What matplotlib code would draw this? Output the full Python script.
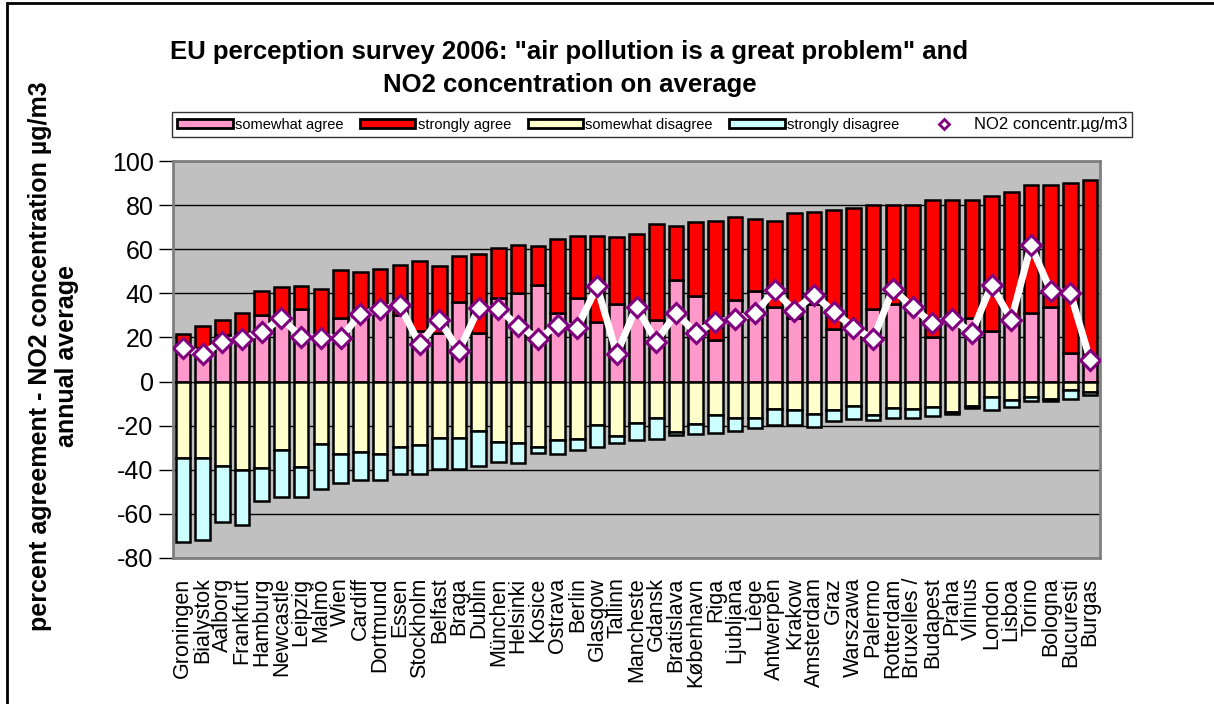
import numpy as np
import matplotlib.pyplot as plt
from matplotlib.patches import Rectangle
from matplotlib.lines import Line2D

plt.rcParams['font.family'] = ['Liberation Sans', 'DejaVu Sans']
plt.rcParams['axes.unicode_minus'] = False

cities = ["Groningen", "Bialystok", "Aalborg", "Frankfurt", "Hamburg", "Newcastle",
          "Leipzig", "Malmö", "Wien", "Cardiff", "Dortmund", "Essen", "Stockholm",
          "Belfast", "Braga", "Dublin", "München", "Helsinki", "Kosice", "Ostrava",
          "Berlin", "Glasgow", "Tallinn", "Mancheste", "Gdansk", "Bratislava",
          "København", "Riga", "Ljubljana", "Liège", "Antwerpen", "Krakow",
          "Amsterdam", "Graz", "Warszawa", "Palermo", "Rotterdam", "Bruxelles /",
          "Budapest", "Praha", "Vilnius", "London", "Lisboa", "Torino", "Bologna",
          "Bucuresti", "Burgas"]

somewhat_agree = [14, 15, 21, 22, 30, 30, 33, 21, 29, 30, 33, 30, 23, 22, 36, 22, 38,
                  40, 44, 31, 38, 27, 35, 35, 28, 46, 39, 19, 37, 41, 34, 29, 35, 24,
                  25, 33, 35, 34, 20, 28, 29, 23, 28, 31, 34, 13, 8]
strongly_agree = [7.5, 10, 7, 9, 11, 13, 10.5, 21, 21.5, 19.5, 18, 23, 31.5, 30.5, 21,
                  36, 22.5, 22, 17.5, 33.5, 28, 39, 30.5, 32, 43.5, 24.5, 33.5, 54,
                  37.5, 32.5, 39, 47.5, 42, 54, 53.5, 47, 45, 46, 62.5, 54.5, 53.5, 61,
                  58, 58, 55, 77, 83.5]
somewhat_disagree = [34.7, 34.7, 38.5, 40.3, 39.3, 31, 38.8, 28.4, 32.8, 32, 32.8, 29.8,
                     28.7, 25.8, 25.8, 22.2, 27.2, 27.9, 29.8, 26.4, 26.1, 19.6, 24.5,
                     18.6, 16.3, 23.1, 19.2, 15.1, 16.3, 16.3, 12.5, 13.1, 14.6, 12.8,
                     11, 15.1, 12.1, 12.5, 11.6, 13.6, 11.3, 7.1, 8.3, 7.1, 8, 3.8, 4.8]
strongly_disagree = [38.1, 37.3, 25.2, 24.6, 15, 21.4, 13.6, 20.5, 13.1, 12.8, 12, 12,
                     13.1, 13.7, 13.7, 16.1, 9.3, 8.9, 2.5, 6.3, 5.1, 10.1, 3.2, 8.1,
                     9.6, 1.0, 4.8, 8.1, 5.9, 4.8, 7.4, 6.8, 6.0, 5.3, 6.2, 2.5, 4.4,
                     4.0, 3.8, 1.0, 0.7, 6.0, 3.3, 1.7, 1.0, 4.3, 1.5]
no2 = [15.1, 12.5, 18.1, 19.4, 22.4, 28.7, 20.1, 19.7, 19.9, 30.5, 32.8, 34.6, 16.9,
       28.0, 13.9, 33.3, 32.8, 25.4, 19.4, 25.5, 24.5, 43.1, 12.6, 34.0, 18.1, 31.0,
       22.2, 26.9, 28.3, 31.0, 41.3, 32.2, 39.3, 31.7, 24.5, 19.2, 41.9, 33.6, 26.5,
       28.3, 22.2, 43.8, 28.0, 61.7, 41.1, 40.1, 9.8]

x = np.arange(len(cities))
sa = np.array(somewhat_agree)
st = np.array(strongly_agree)
sd = np.array(somewhat_disagree)
sdd = np.array(strongly_disagree)

fig = plt.figure(figsize=(12.14, 7.04), dpi=100)
ax = fig.add_axes([0.1425, 0.2074, 0.7636, 0.5639])
ax.set_facecolor('#C0C0C0')

bw = 0.74
edge = dict(edgecolor='black', linewidth=1.8, width=bw, zorder=3)
ax.bar(x, sa, color='#FF99CC', label='somewhat agree', **edge)
ax.bar(x, st, bottom=sa, color='#FF0000', label='strongly agree', **edge)
ax.bar(x, -sd, color='#FFFFCC', label='somewhat disagree', **edge)
ax.bar(x, -sdd, bottom=-sd, color='#CCFFFF', label='strongly disagree', **edge)

ax.plot(x, no2, color='white', linewidth=5, zorder=4)
ax.plot(x, no2, linestyle='none', marker='D', markersize=10.5, markerfacecolor='white',
        markeredgecolor='#800080', markeredgewidth=2.2, zorder=5)

ax.set_xlim(-0.5, len(cities) - 0.5)
ax.set_ylim(-80, 100)
ax.set_yticks(range(-80, 101, 20))
ax.yaxis.grid(True, color='black', linewidth=1)
ax.set_axisbelow(True)
for s in ax.spines.values():
    s.set_color('#808080')
    s.set_linewidth(2)

ax.tick_params(axis='y', labelsize=18, length=10, width=1, color='black', pad=4)
ax.set_xticks(x)
ax.set_xticklabels(cities, rotation=90, ha='center', va='top', fontsize=15.5)
ax.tick_params(axis='x', length=0, pad=14)

fig.text(0.469, 0.903, 'EU perception survey 2006: "air pollution is a great problem" and\n'
         'NO2 concentration on average', ha='center', va='center', fontsize=18.5,
         fontweight='bold', linespacing=1.5)

fig.text(0.044, 0.494, 'percent agreement - NO2 concentration µg/m3\nannual average',
         rotation=90, ha='center', va='center', fontsize=18, fontweight='bold',
         linespacing=1.2)

handles = [Rectangle((0, 0), 1, 1, facecolor=c, edgecolor='black', linewidth=2)
           for c in ['#FF99CC', '#FF0000', '#FFFFCC', '#CCFFFF']]
handles.append(Line2D([], [], linestyle='none', marker='D', markersize=5,
                      markerfacecolor='white', markeredgecolor='#800080',
                      markeredgewidth=2))
labels = ['somewhat agree', 'strongly agree', 'somewhat disagree', 'strongly disagree',
          'NO2 concentr.µg/m3']
leg = fig.legend(handles, labels, ncol=5, loc='center left',
                 bbox_to_anchor=(172 / 1214, 1 - 124.5 / 704), fontsize=10.5,
                 frameon=True, fancybox=False, edgecolor='black', handlelength=3.8,
                 handleheight=0.6, handletextpad=0.15, columnspacing=1.15,
                 borderpad=0.35, borderaxespad=0)
leg.get_frame().set_linewidth(1)
leg.get_texts()[4].set_fontsize(12)

# outer chart frame
fig.patches.append(Rectangle((7 / 1214, -0.1), 1.2, 1.1 - 3 / 704, transform=fig.transFigure,
                             fill=False, edgecolor='black', linewidth=2, clip_on=False))

fig.savefig('out.png', dpi=100)
